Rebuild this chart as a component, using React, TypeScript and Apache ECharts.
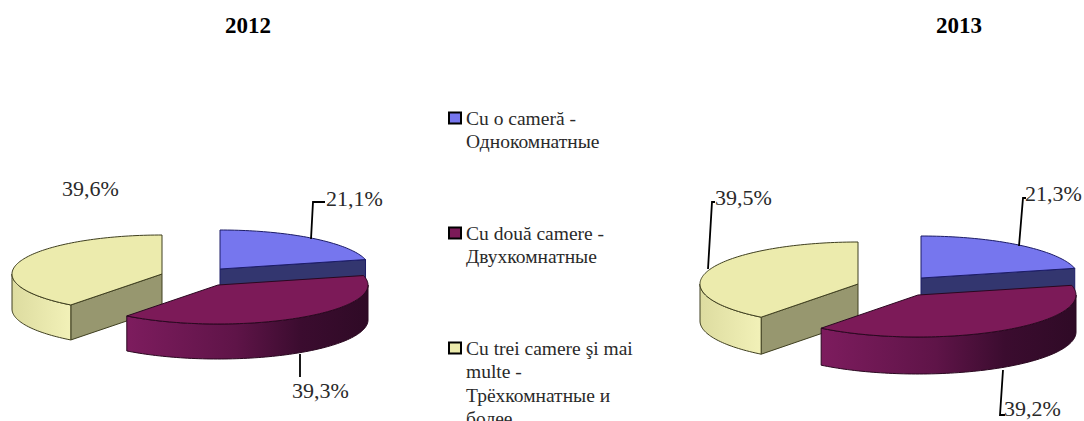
import React, { useEffect, useRef } from "react";
import * as echarts from "echarts";

const years = ["2012", "2013"];
const categories = [
  "Cu o cameră -\nОднокомнатные",
  "Cu două camere -\nДвухкомнатные",
  "Cu trei camere şi mai\nmulte -\nТрёхкомнатные и\nболее",
];
const oneRoom = [21.1, 21.3];
const twoRooms = [39.3, 39.2];
const threeRooms = [39.6, 39.5];

const serif = '"Liberation Serif", "Times New Roman", serif';
const INK = "#2a2a2a";
const LINE_H = 23.6;

// Layout of the two exploded pies, kept apart from the values.
const PIES = [
  { centers: [[220, 269], [218, 285], [162, 274]], rx: 150, ry: 39, depth: 35 },
  { centers: [[921, 278], [918, 295], [858, 284]], rx: 158, ry: 42, depth: 37 },
];
const LABELS = [
  [
    { x: 326, y: 198, line: [[311, 239], [313, 202], [325, 202]] },
    { x: 292, y: 390, line: [[300, 354], [300, 377]] },
    { x: 62, y: 188, line: null },
  ],
  [
    { x: 1025, y: 193, line: [[1019, 246], [1023, 198], [1026, 198]] },
    { x: 1004, y: 408, line: [[1003, 370], [1000, 415], [1005, 415]] },
    { x: 715, y: 197, line: [[708, 269], [712, 202], [715, 202]] },
  ],
];
const COLORS = [
  { top: "#7676ee", radial: "#33366f", rim: ["#33366f", "#33366f"], edge: "#1c1c66" },
  {
    top: "#7c1a58",
    radial: "#3a0c2e",
    rim: ["#7d1c5e", "#2f0a26"],
    edge: "#2a0820",
  },
  { top: "#ecebad", radial: "#97976f", rim: ["#dddca0", "#f2f1b8"], edge: "#3f3f20" },
];

const allValues = [oneRoom, twoRooms, threeRooms];
const fmt = (v: number) => v.toFixed(1).replace(".", ",") + "%";

function makeRenderItem(sliceIdx: number) {
  return (_params: any, api: any) => {
    const yearIdx = api.value(0);
    const value = api.value(1);
    const pie = PIES[yearIdx];
    const total = allValues.reduce((s, arr) => s + arr[yearIdx], 0);
    let before = 0;
    for (let i = 0; i < sliceIdx; i++) before += allValues[i][yearIdx];
    const a0 = (before / total) * Math.PI * 2;
    const a1 = ((before + value) / total) * Math.PI * 2;
    const [cx, cy] = pie.centers[sliceIdx];
    const c = COLORS[sliceIdx];
    const at = (a: number, dz = 0): number[] => [
      cx + pie.rx * Math.sin(a),
      cy - pie.ry * Math.cos(a) + dz,
    ];
    const arc = (from: number, to: number, dz = 0) => {
      const n = Math.max(2, Math.ceil(Math.abs(to - from) * 40));
      const pts: number[][] = [];
      for (let i = 0; i <= n; i++) pts.push(at(from + ((to - from) * i) / n, dz));
      return pts;
    };
    const children: any[] = [];
    const stroke = { stroke: c.edge, lineWidth: 1, lineJoin: "round" };

    // Flat faces along the cuts, only when they turn towards the viewer.
    const radial = (a: number) => ({
      type: "polygon",
      shape: { points: [[cx, cy], at(a), at(a, pie.depth), [cx, cy + pie.depth]] },
      style: { fill: c.radial, ...stroke },
    });
    if (Math.sin(a0) < -1e-6) children.push(radial(a0));
    if (Math.sin(a1) > 1e-6) children.push(radial(a1));

    // Curved outer wall: the part of the rim on the viewer's side.
    const w0 = Math.max(a0, Math.PI / 2);
    const w1 = Math.min(a1, (Math.PI * 3) / 2);
    if (w1 > w0) {
      const upper = arc(w0, w1);
      const lower = arc(w1, w0, pie.depth);
      const stops =
        sliceIdx === 1
          ? [
              { offset: 0, color: c.rim[0] },
              { offset: 0.45, color: "#5f1448" },
              { offset: 0.72, color: "#3b0c2f" },
              { offset: 1, color: c.rim[1] },
            ]
          : [
              { offset: 0, color: c.rim[0] },
              { offset: 1, color: c.rim[1] },
            ];
      children.push({
        type: "polygon",
        shape: { points: upper.concat(lower) },
        style: { fill: new echarts.graphic.LinearGradient(0, 0, 1, 0, stops), ...stroke },
      });
    }

    // Top face.
    children.push({
      type: "polygon",
      shape: { points: [[cx, cy] as number[]].concat(arc(a0, a1)) },
      style: { fill: c.top, ...stroke },
    });

    // Value label with its leader line.
    const lab = LABELS[yearIdx][sliceIdx];
    if (lab.line) {
      children.push({
        type: "polyline",
        shape: { points: lab.line },
        style: { fill: "none", stroke: "#000", lineWidth: 1.8 },
      });
    }
    children.push({
      type: "text",
      x: lab.x,
      y: lab.y,
      style: {
        text: fmt(value),
        fill: INK,
        font: `22px ${serif}`,
        textAlign: "left",
        textVerticalAlign: "middle",
      },
    });
    return { type: "group", children };
  };
}

const lineCount = (s: string) => s.split("\n").length;

export default function App() {
  const ref = useRef<HTMLDivElement>(null);
  useEffect(() => {
    const chart = echarts.init(ref.current!, null, { renderer: "svg" });
    const legendCenters = [118, 233, 348];
    chart.setOption({
      animation: false,
      backgroundColor: "#fff",
      title: years.map((text, i) => ({
        text,
        left: i === 0 ? 248 : 959,
        top: 14,
        textAlign: "center",
        padding: 0,
        textStyle: { fontFamily: serif, fontSize: 23, fontWeight: "bold", color: "#000" },
      })),
      legend: categories.map((name, i) => {
        const n = lineCount(name);
        return {
          data: [
            {
              name,
              icon: "rect",
              itemStyle: { color: COLORS[i].top, borderColor: "#000", borderWidth: 2 },
            },
          ],
          left: 448,
          top: legendCenters[i] - (LINE_H * (2 * n - 1)) / 2,
          padding: 0,
          itemWidth: 12,
          itemHeight: 11,
          itemGap: 0,
          selectedMode: false,
          // Blank lines above the name keep its first line level with the marker.
          formatter: (s: string) => "\n".repeat(n - 1) + s,
          textStyle: {
            fontFamily: serif,
            fontSize: 19.5,
            color: INK,
            lineHeight: LINE_H,
          },
        };
      }),
      series: [2, 0, 1].map((sliceIdx) => ({
        type: "custom",
        name: categories[sliceIdx],
        coordinateSystem: "none",
        silent: true,
        itemStyle: { color: COLORS[sliceIdx].top },
        encode: { value: 1 },
        data: years.map((_y, yi) => [yi, allValues[sliceIdx][yi]]),
        renderItem: makeRenderItem(sliceIdx),
      })),
    });
    return () => chart.dispose();
  }, []);
  return (
    <div
      ref={ref}
      style={{ position: "fixed", left: 0, top: 0, width: 1084, height: 421 }}
    />
  );
}
